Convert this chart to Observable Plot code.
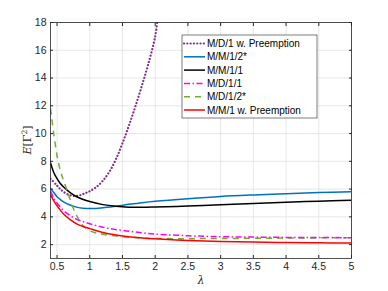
<!DOCTYPE html>
<html>
<head>
<meta charset="utf-8">
<script src="https://cdn.jsdelivr.net/npm/d3@7"></script>
<script src="https://cdn.jsdelivr.net/npm/@observablehq/plot@0.6"></script>
<style>
  html, body { margin: 0; padding: 0; background: #fff; }
  #chart { position: relative; width: 388px; height: 291px; }
</style>
</head>
<body>
<div id="chart"></div>
<script>
// ---- data ----
const seriesNames = ["M/D/1 w. Preemption", "M/M/1/2*", "M/M/1/1", "M/D/1/1", "M/D/1/2*", "M/M/1 w. Preemption"];

const mdPreX = [0.4, 0.5, 0.55, 0.6, 0.7, 0.78, 0.85, 0.93, 1.0, 1.1, 1.2, 1.3, 1.4, 1.5, 1.6, 1.7, 1.8, 1.9, 2.0, 2.03];
const mdPreY = [6.75, 6.25, 6.0, 5.8, 5.55, 5.5, 5.55, 5.7, 5.85, 6.15, 6.6, 7.25, 8.15, 9.3, 10.6, 12.0, 13.5, 15.1, 17.0, 18.0];

const mm12X = [0.4, 0.45, 0.5, 0.55, 0.6, 0.7, 0.8, 0.9, 1.0, 1.1, 1.2, 1.4, 1.6, 1.8, 2.0, 2.5, 3.0, 3.5, 4.0, 4.5, 5.0];
const mm12Y = [6.05, 5.75, 5.45, 5.25, 5.08, 4.85, 4.7, 4.62, 4.6, 4.61, 4.66, 4.77, 4.9, 5.02, 5.12, 5.31, 5.47, 5.58, 5.67, 5.75, 5.8];

const mm11X = [0.4, 0.45, 0.5, 0.55, 0.6, 0.7, 0.8, 0.9, 1.0, 1.2, 1.4, 1.6, 1.8, 2.0, 2.5, 3.0, 3.5, 4.0, 4.5, 5.0];
const mm11Y = [7.9, 7.2, 6.75, 6.4, 6.15, 5.75, 5.45, 5.25, 5.1, 4.88, 4.76, 4.7, 4.69, 4.71, 4.78, 4.87, 4.96, 5.05, 5.13, 5.2];

const md11X = [0.4, 0.45, 0.5, 0.6, 0.7, 0.8, 0.9, 1.0, 1.2, 1.4, 1.6, 1.8, 2.0, 2.5, 3.0, 3.5, 4.0, 4.5, 5.0];
const md11Y = [5.85, 5.35, 5.0, 4.45, 4.1, 3.82, 3.65, 3.5, 3.25, 3.08, 2.96, 2.85, 2.76, 2.64, 2.57, 2.54, 2.52, 2.51, 2.5];

const md12X = [0.4, 0.45, 0.5, 0.55, 0.6, 0.65, 0.7, 0.75, 0.8, 0.85, 0.9, 1.0, 1.1, 1.2, 1.4, 1.6, 1.8, 2.0, 2.5, 3.0, 4.0, 5.0];
const md12Y = [11.8, 10.0, 8.4, 7.35, 6.6, 5.95, 5.25, 4.6, 4.1, 3.65, 3.35, 3.0, 2.84, 2.74, 2.62, 2.53, 2.47, 2.44, 2.43, 2.44, 2.47, 2.5];

const mmPreX = [0.4, 0.45, 0.5, 0.6, 0.7, 0.8, 0.9, 1.0, 1.2, 1.4, 1.6, 1.8, 2.0, 2.5, 3.0, 3.5, 4.0, 4.5, 5.0];
const mmPreY = [5.6, 5.15, 4.8, 4.2, 3.8, 3.5, 3.3, 3.15, 2.87, 2.69, 2.56, 2.48, 2.42, 2.3, 2.22, 2.18, 2.15, 2.13, 2.11];

const xTicks = [0.5, 1, 1.5, 2, 2.5, 3, 3.5, 4, 4.5, 5];
const yTicks = [2, 4, 6, 8, 10, 12, 14, 16, 18];

// ---- styles ----
const colors = ["#7E2F8E", "#0072BD", "#000000", "#FF00FF", "#77AC30", "#FF0000"];
const dashes = ["0.1,3.2", null, null, "6,2.5,1.5,2.5", "6,5", null];
const widths = [2.2, 1.5, 1.5, 1.5, 1.5, 1.5];
const caps = ["round", "butt", "butt", "butt", "butt", "butt"];

const xs = [mdPreX, mm12X, mm11X, md11X, md12X, mmPreX];
const ys = [mdPreY, mm12Y, mm11Y, md11Y, md12Y, mmPreY];
const tables = xs.map((xa, i) => xa.map((x, j) => ({x, y: ys[i][j]})));

const font = "'Liberation Sans', Arial, Helvetica, sans-serif";
const drawOrder = [0, 1, 2, 4, 3, 5];

const chart = Plot.plot({
  width: 388,
  height: 291,
  marginLeft: 50,
  marginRight: 37,
  marginTop: 22,
  marginBottom: 33,
  style: {fontFamily: font, fontSize: "10.5px", color: "#262626", background: "#fff"},
  x: {domain: [0.4, 5]},
  y: {domain: [1, 18]},
  marks: [
    Plot.gridX(xTicks, {stroke: "#dcdcdc", strokeOpacity: 1, strokeWidth: 0.7}),
    Plot.gridY(yTicks, {stroke: "#dcdcdc", strokeOpacity: 1, strokeWidth: 0.7}),
    ...drawOrder.map(i => Plot.line(tables[i], {
      x: "x", y: "y", stroke: colors[i], strokeWidth: widths[i],
      strokeDasharray: dashes[i], strokeLinecap: caps[i], curve: "catmull-rom", clip: true
    })),
    Plot.frame({stroke: "#262626", strokeWidth: 0.8}),
    Plot.axisX(xTicks, {tickSize: -3, tickPadding: 7, tickFormat: d => String(d), label: null, stroke: "#262626"}),
    Plot.axisX(xTicks, {anchor: "top", tickSize: -3, tickFormat: () => "", label: null, stroke: "#262626"}),
    Plot.axisY(yTicks, {tickSize: -3, tickPadding: 7, label: null, stroke: "#262626"}),
    Plot.axisY(yTicks, {anchor: "right", tickSize: -3, tickFormat: () => "", label: null, stroke: "#262626"})
  ]
});

document.getElementById("chart").appendChild(chart);

// ---- labels & legend ----
const svg = d3.select(chart);

// y label
const yl = svg.append("text")
  .attr("transform", "translate(31,140) rotate(-90)")
  .attr("text-anchor", "middle")
  .attr("fill", "#262626")
  .style("font-family", "'DejaVu Serif', 'Liberation Serif', serif")
  .style("font-size", "11px");
yl.append("tspan").attr("font-style", "italic").text("E");
yl.append("tspan").text("[Γ");
yl.append("tspan").attr("dy", "-4").style("font-size", "7.5px").text("2");
yl.append("tspan").attr("dy", "4").text("]");

// x label
svg.append("text")
  .attr("x", 201).attr("y", 284)
  .attr("text-anchor", "middle")
  .attr("fill", "#262626")
  .style("font-family", "'DejaVu Serif', 'Liberation Serif', serif")
  .style("font-style", "italic")
  .style("font-size", "11px")
  .text("λ");

// legend
const lg = svg.append("g");
lg.append("rect")
  .attr("x", 182).attr("y", 35).attr("width", 135).attr("height", 83)
  .attr("fill", "#fff").attr("stroke", "#262626").attr("stroke-width", 0.6);
seriesNames.forEach((name, i) => {
  const yy = 43.5 + i * 13.3;
  lg.append("line")
    .attr("x1", 184).attr("x2", 205).attr("y1", yy).attr("y2", yy)
    .attr("stroke", colors[i]).attr("stroke-width", widths[i])
    .attr("stroke-dasharray", dashes[i])
    .attr("stroke-linecap", caps[i]);
  lg.append("text")
    .attr("x", 207).attr("y", yy).attr("dy", "0.36em")
    .attr("text-anchor", "start")
    .attr("fill", "#000")
    .style("font-family", font).style("font-size", "10px")
    .text(name);
});
</script>
</body>
</html>
